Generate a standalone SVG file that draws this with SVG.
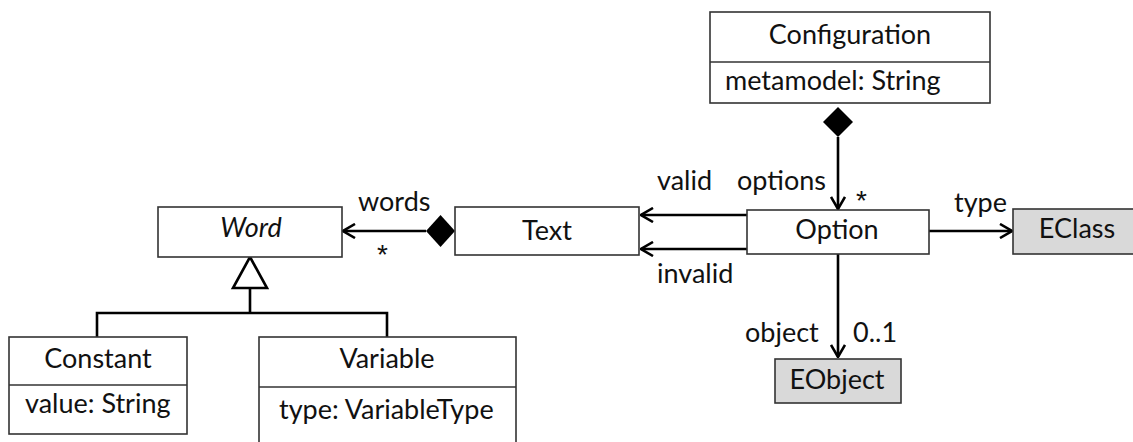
<svg xmlns="http://www.w3.org/2000/svg" width="1133" height="442" viewBox="0 0 1133 442">
  <style>
    .box { fill: #ffffff; stroke: #333333; stroke-width: 1.6; }
    .ext { fill: #d9d9d9; stroke: #333333; stroke-width: 1.6; }
    .sep { stroke: #333333; stroke-width: 1.6; }
    text { font-family: Lato, "Liberation Sans", sans-serif; font-size: 27px; fill: #111111; }
    .c { text-anchor: middle; }
    .it { font-style: italic; }
    .star { font-family: "Liberation Sans", sans-serif; font-size: 28px; }
    .edge { fill: none; stroke: #000000; stroke-width: 2.6; }
    .gen { fill: none; stroke: #000000; stroke-width: 2.6; }
  </style>
  <defs>
    <marker id="open" viewBox="0 0 14 16" refX="13" refY="8" markerWidth="14" markerHeight="16" markerUnits="userSpaceOnUse" orient="auto">
      <path d="M1,1 L13,8 L1,15" fill="none" stroke="#000000" stroke-width="2.6"/>
    </marker>
  </defs>

  <rect width="1133" height="442" fill="#ffffff"/>

  <!-- connectors -->
  <g id="connectors">
    <!-- composition: Configuration owns options of Option -->
    <path class="edge" d="M838,137 L838,209" marker-end="url(#open)"/>
    <polygon points="838,107 853,122 838,137 823,122" fill="#000000"/>
    <!-- composition: Text owns words of Word -->
    <path class="edge" d="M426,231 L343,231" marker-end="url(#open)"/>
    <polygon points="426,231 440.5,215 455,231 440.5,247" fill="#000000"/>
    <!-- Option to Text: valid / invalid -->
    <path class="edge" d="M747,215 L641,215" marker-end="url(#open)"/>
    <path class="edge" d="M747,249 L641,249" marker-end="url(#open)"/>
    <!-- Option to EClass: type -->
    <path class="edge" d="M929,231 L1012,231" marker-end="url(#open)"/>
    <!-- Option to EObject: object -->
    <path class="edge" d="M838,254 L838,357" marker-end="url(#open)"/>
    <!-- generalization: Constant, Variable extend Word -->
    <polygon class="gen" points="250,257 267,288 233,288" fill="#ffffff"/>
    <path class="gen" d="M250,288 L250,313 M97,337 L97,313 L387,313 L387,337"/>

    <text x="737" y="190">options</text>
    <text x="856" y="210" class="star">*</text>
    <text x="377" y="264" class="star">*</text>
    <text x="358" y="211">words</text>
    <text x="657" y="190">valid</text>
    <text x="657" y="283">invalid</text>
    <text x="954" y="212">type</text>
    <text x="745" y="342">object</text>
    <text x="853" y="342">0..1</text>
  </g>

  <g id="Configuration">
    <rect class="box" x="710" y="12" width="280" height="91"/>
    <line class="sep" x1="710" y1="62" x2="990" y2="62"/>
    <text x="850" y="44" class="c">Configuration</text>
    <text x="725" y="90">metamodel: String</text>
  </g>

  <g id="Option">
    <rect class="box" x="747" y="210" width="182" height="44"/>
    <text x="837" y="239" class="c">Option</text>
  </g>

  <g id="Text">
    <rect class="box" x="455" y="207" width="184" height="48"/>
    <text x="547" y="240" class="c">Text</text>
  </g>

  <g id="Word">
    <rect class="box" x="158" y="207" width="184" height="50"/>
    <text x="251" y="237" class="c it">Word</text>
  </g>

  <g id="EClass">
    <rect class="ext" x="1013" y="209" width="125" height="45"/>
    <text x="1077" y="238" class="c">EClass</text>
  </g>

  <g id="EObject">
    <rect class="ext" x="775" y="359" width="126" height="44"/>
    <text x="837" y="389" class="c">EObject</text>
  </g>

  <g id="Constant">
    <rect class="box" x="9" y="337" width="178" height="97"/>
    <line class="sep" x1="9" y1="385" x2="187" y2="385"/>
    <text x="98" y="368" class="c">Constant</text>
    <text x="25" y="413">value: String</text>
  </g>

  <g id="Variable">
    <rect class="box" x="259" y="337" width="257" height="115"/>
    <line class="sep" x1="259" y1="387" x2="516" y2="387"/>
    <text x="387" y="368" class="c">Variable</text>
    <text x="279" y="419">type: VariableType</text>
  </g>
</svg>
